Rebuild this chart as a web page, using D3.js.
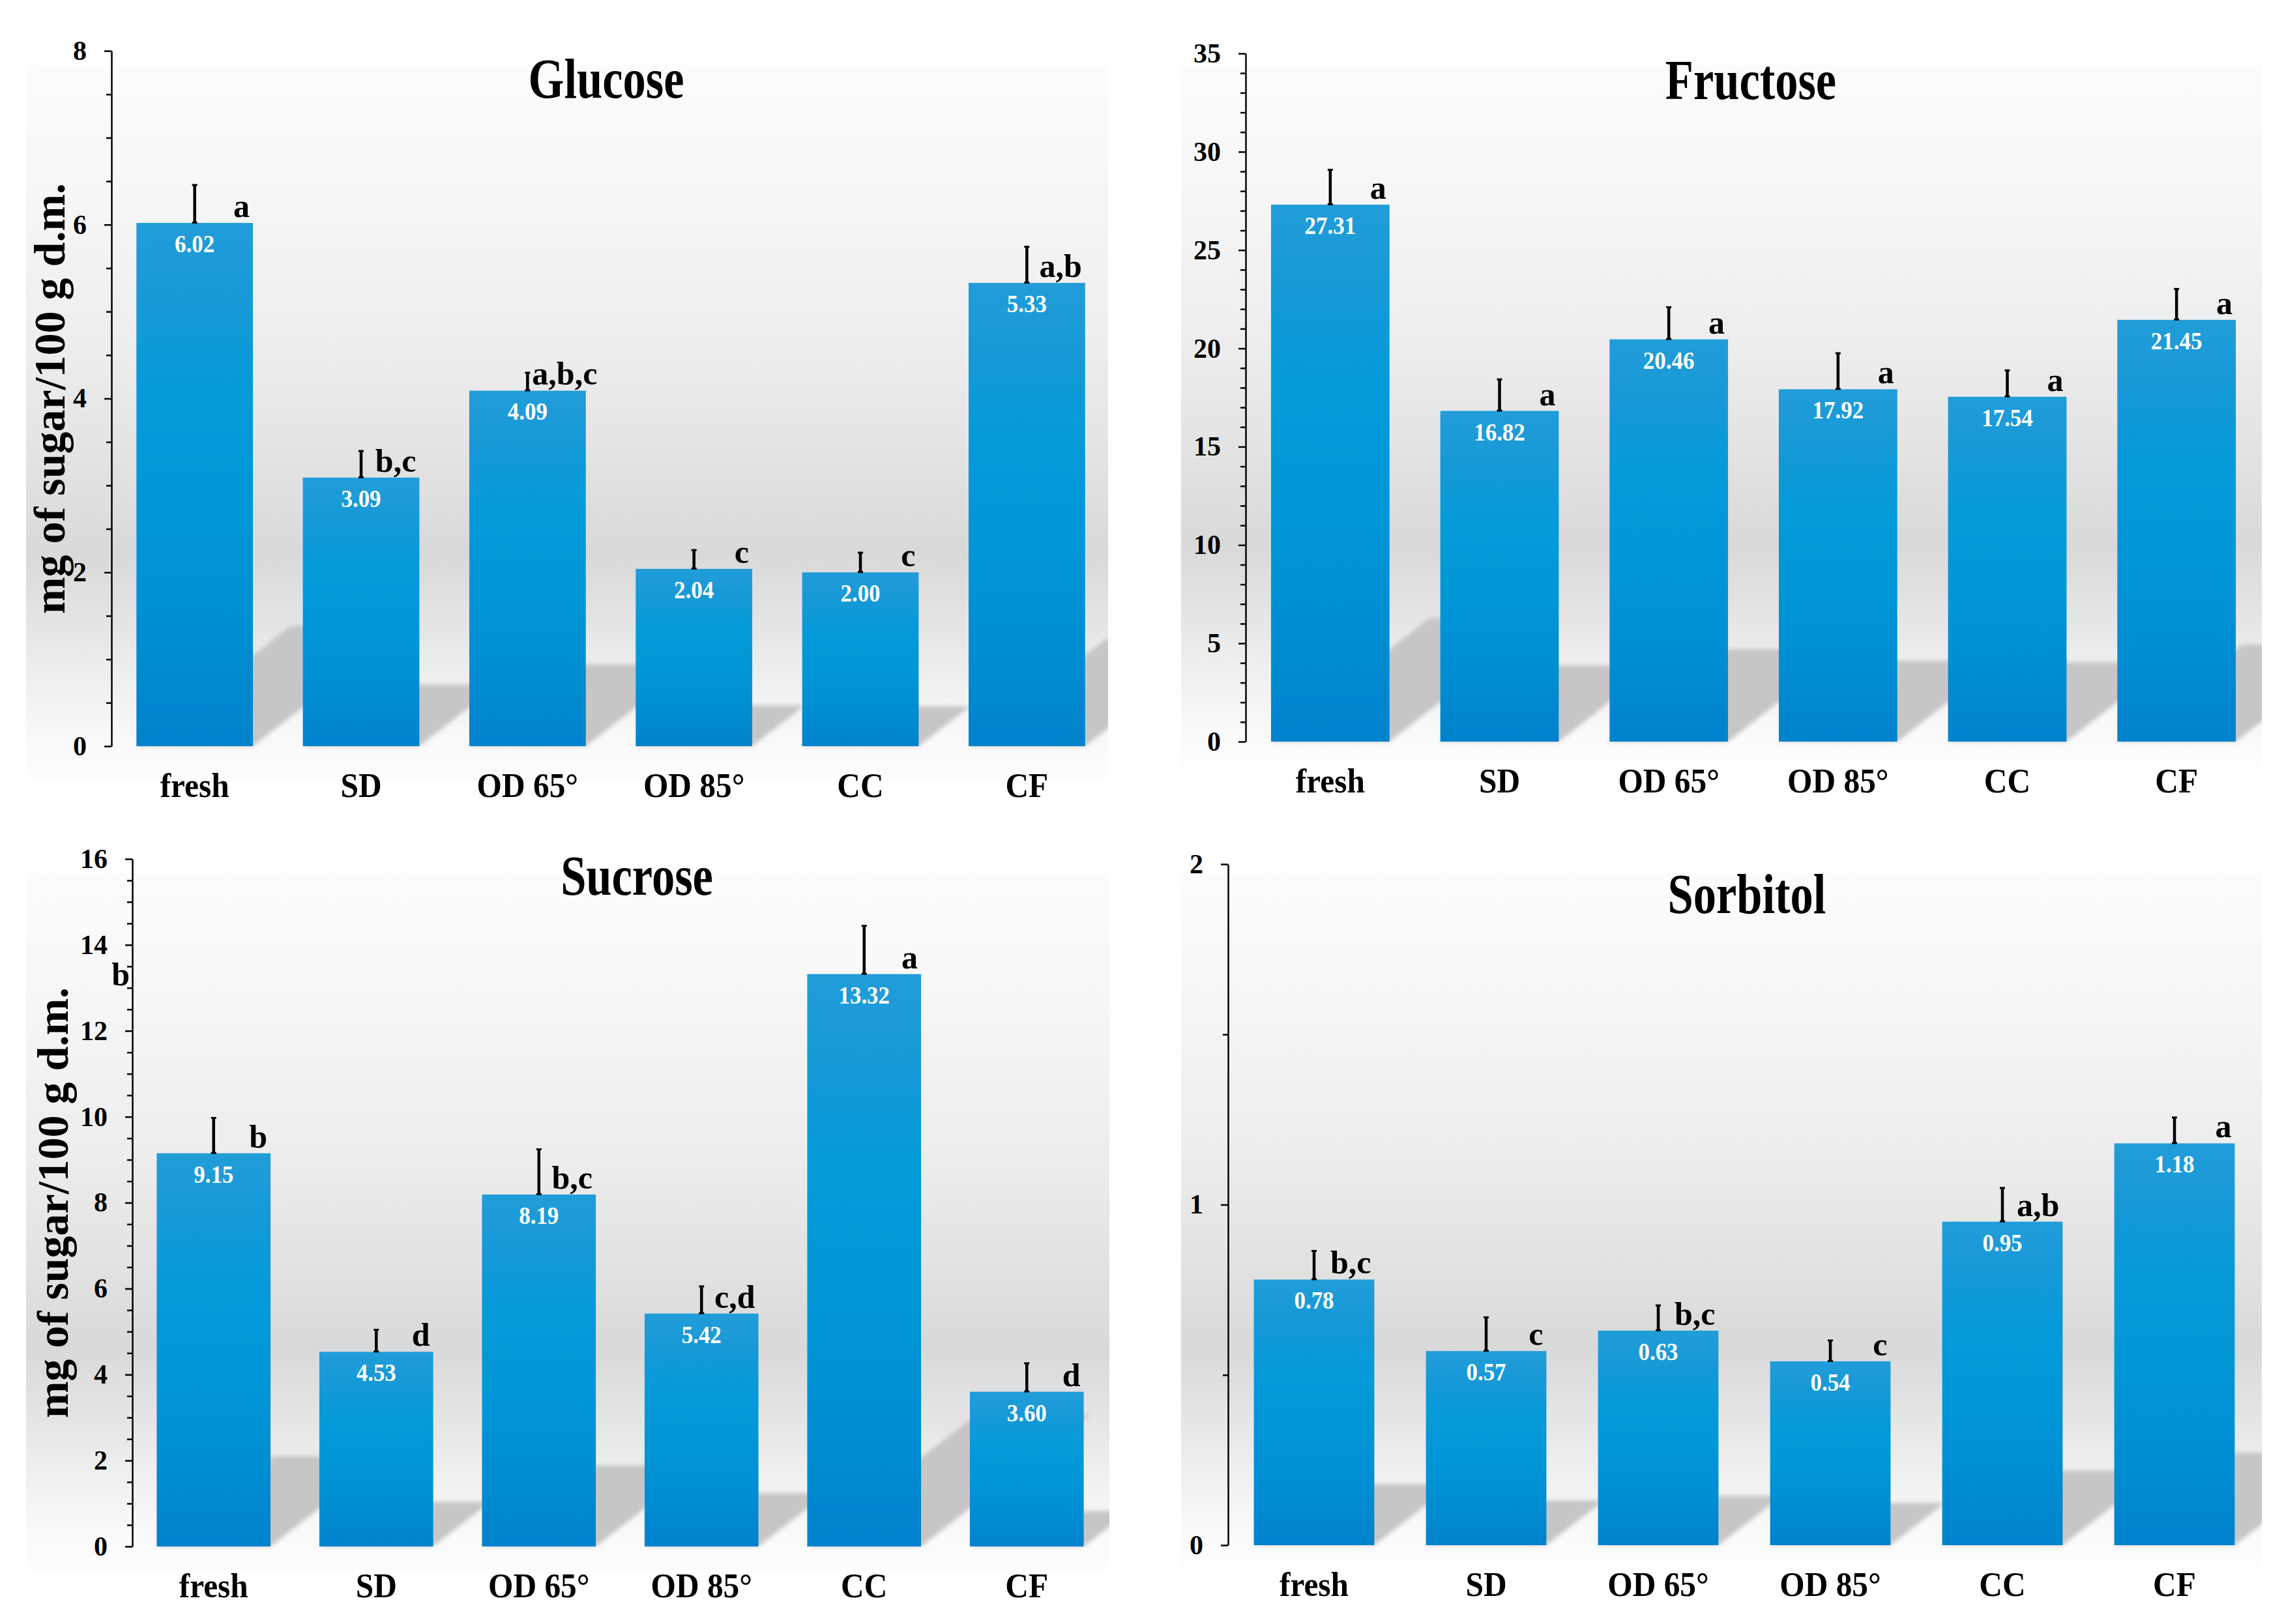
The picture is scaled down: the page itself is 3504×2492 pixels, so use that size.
<!DOCTYPE html>
<html>
<head>
<meta charset="utf-8">
<script src="https://cdn.jsdelivr.net/npm/d3@7"></script>
<style>
html,body{margin:0;padding:0;background:#fff;}
svg{display:block;}
</style>
</head>
<body>
<script>
// ---------- DATA ----------
const categories = ["fresh", "SD", "OD 65°", "OD 85°", "CC", "CF"];

const glucose        = [6.02, 3.09, 4.09, 2.04, 2.00, 5.33];
const glucoseErr     = [0.44, 0.31, 0.21, 0.22, 0.23, 0.42];
const glucoseLetters = ["a", "b,c", "a,b,c", "c", "c", "a,b"];
const glucoseTicks   = [0, 2, 4, 6, 8];

const fructose        = [27.31, 16.82, 20.46, 17.92, 17.54, 21.45];
const fructoseErr     = [1.79, 1.62, 1.65, 1.85, 1.36, 1.59];
const fructoseLetters = ["a", "a", "a", "a", "a", "a"];
const fructoseTicks   = [0, 5, 10, 15, 20, 25, 30, 35];

const sucrose        = [9.15, 4.53, 8.19, 5.42, 13.32, 3.60];
const sucroseErr     = [0.83, 0.52, 1.06, 0.64, 1.13, 0.67];
const sucroseLetters = ["b", "d", "b,c", "c,d", "a", "d"];
const sucroseTicks   = [0, 2, 4, 6, 8, 10, 12, 14, 16];

const sorbitol        = [0.78, 0.57, 0.63, 0.54, 0.95, 1.18];
const sorbitolErr     = [0.085, 0.10, 0.075, 0.062, 0.10, 0.077];
const sorbitolLetters = ["b,c", "c", "b,c", "c", "a,b", "a"];
const sorbitolTicks   = [0, 1, 2];

const yTitle = "mg of sugar/100 g d.m.";

// ---------- LAYOUT ----------
const W = 3504, H = 2492;
const FONT = "'Liberation Serif','Times New Roman',serif";

const panels = [
  {title:"Glucose",  vals:glucose,  errs:glucoseErr,  letters:glucoseLetters,  ticks:glucoseTicks,  minor:0.5,
   xr:[171,1703], yr:[1145,78],  bg:[40,100,1700,1198],  tpos:[930,150],  ytx:99,  extra:null},
  {title:"Fructose", vals:fructose, errs:fructoseErr, letters:fructoseLetters, ticks:fructoseTicks, minor:1,
   xr:[1911,3469], yr:[1138,82], bg:[1812,100,3470,1178], tpos:[2686,152], ytx:null, extra:null},
  {title:"Sucrose",  vals:sucrose,  errs:sucroseErr,  letters:sucroseLetters,  ticks:sucroseTicks,  minor:0.5,
   xr:[203,1700], yr:[2373,1318], bg:[40,1340,1702,2410], tpos:[977,1373], ytx:104, extra:{t:"b", x:199, y:1512}},
  {title:"Sorbitol", vals:sorbitol, errs:sorbitolErr, letters:sorbitolLetters, ticks:sorbitolTicks, minor:0.5,
   xr:[1884,3468], yr:[2371,1326], bg:[1812,1340,3470,2405], tpos:[2680,1401], ytx:null, extra:null}
];

const svg = d3.select("body").append("svg")
  .attr("width", W).attr("height", H)
  .attr("viewBox", `0 0 ${W} ${H}`);

svg.append("rect").attr("width", W).attr("height", H).attr("fill", "#fff");

const defs = svg.append("defs");

// background gradient
const bgGrad = defs.append("linearGradient").attr("id","bgGrad")
  .attr("x1",0).attr("y1",0).attr("x2",0).attr("y2",1);
[[0,"#fcfcfc"],[0.2,"#f6f6f6"],[0.4,"#ededed"],[0.55,"#e3e3e3"],[0.68,"#d9d9d9"],
 [0.76,"#e2e2e2"],[0.85,"#eeeeee"],[0.94,"#f9f9f9"],[1,"#fdfdfd"]]
  .forEach(([o,c]) => bgGrad.append("stop").attr("offset",o).attr("stop-color",c));

// bar gradient
const barGrad = defs.append("linearGradient").attr("id","barGrad")
  .attr("x1",0).attr("y1",0).attr("x2",0).attr("y2",1);
[[0,"#219dd9"],[0.15,"#1799d7"],[0.32,"#069ad9"],[0.55,"#0097d7"],[0.8,"#008dd2"],[1,"#0082cc"]]
  .forEach(([o,c]) => barGrad.append("stop").attr("offset",o).attr("stop-color",c));

// blur for shadows
defs.append("filter").attr("id","shBlur").attr("x","-10%").attr("y","-10%").attr("width","120%").attr("height","120%")
  .append("feGaussianBlur").attr("stdDeviation", 3);

panels.forEach((p, i) => {
  const g = svg.append("g");

  const x = d3.scaleBand().domain(categories).range(p.xr).paddingInner(0.3).paddingOuter(0.15);
  const y = d3.scaleLinear().domain([0, d3.max(p.ticks)]).range(p.yr);

  // background
  const [bx0, by0, bx1, by1] = p.bg;
  g.append("rect").attr("x",bx0).attr("y",by0).attr("width",bx1-bx0).attr("height",by1-by0)
    .attr("fill","url(#bgGrad)");

  // clip for shadows
  defs.append("clipPath").attr("id","clip"+i)
    .append("rect").attr("x",bx0).attr("y",by0).attr("width",bx1-bx0).attr("height",by1-by0);

  // shadows
  const data = categories.map((c, k) => ({c, v:p.vals[k], e:p.errs[k], l:p.letters[k]}));
  const y0 = y(0);
  g.append("g").attr("clip-path", `url(#clip${i})`)
    .selectAll("polygon").data(data).join("polygon")
    .attr("points", d => {
      const xa = x(d.c), xb = x(d.c) + x.bandwidth();
      const hs = 0.23 * (y0 - y(d.v));
      const dx = hs / 0.78;
      return [[xa,y0],[xb,y0],[xb+dx,y0-hs],[xa+dx,y0-hs]].map(q => q.join(",")).join(" ");
    })
    .attr("fill","#c6c6c6")
    .attr("filter","url(#shBlur)");

  // bars
  g.append("g").selectAll("rect").data(data).join("rect")
    .attr("x", d => x(d.c))
    .attr("y", d => y(d.v))
    .attr("width", x.bandwidth())
    .attr("height", d => y0 - y(d.v))
    .attr("fill", "url(#barGrad)");

  // error bars (upper only)
  const eb = g.append("g").selectAll("g").data(data).join("g");
  eb.append("line")
    .attr("x1", d => x(d.c) + x.bandwidth()/2).attr("x2", d => x(d.c) + x.bandwidth()/2)
    .attr("y1", d => y(d.v)).attr("y2", d => y(d.v + d.e))
    .attr("stroke","#000").attr("stroke-width",4.5);
  eb.append("rect")
    .attr("x", d => x(d.c) + x.bandwidth()/2 - 4).attr("y", d => y(d.v + d.e) - 1)
    .attr("width", 8).attr("height", 3).attr("fill","#000");
  eb.append("rect")
    .attr("x", d => x(d.c) + x.bandwidth()/2 - 4).attr("y", d => y(d.v) - 2)
    .attr("width", 8).attr("height", 3).attr("fill","#000");

  // value labels
  g.append("g").selectAll("g").data(data).join("g")
    .attr("transform", d => `translate(${x(d.c) + x.bandwidth()/2},${y(d.v) + 45})`)
    .append("text")
    .attr("transform","scale(0.92,1)")
    .attr("text-anchor","middle")
    .attr("font-family", FONT).attr("font-weight","bold").attr("font-size",38)
    .attr("fill","#fff")
    .text(d => d.v.toFixed(2));

  // significance letters (right-aligned near bar edge, but kept clear of the error bar)
  g.append("g").selectAll("text").data(data).join("text")
    .attr("y", d => y(d.v) - 9)
    .attr("text-anchor","start")
    .attr("font-family", FONT).attr("font-weight","bold").attr("font-size",50)
    .attr("fill","#000")
    .text(d => d.l)
    .attr("x", function(d) {
      const w = this.getComputedTextLength();
      const cx = x(d.c) + x.bandwidth()/2;
      const endX = x(d.c) + x.bandwidth() - 5;
      return Math.max(endX - w, cx + 7);
    });

  // y axis: minor ticks
  const maxV = d3.max(p.ticks);
  const minorVals = d3.range(0, maxV + 1e-9, p.minor).filter(v => !p.ticks.includes(v));
  const axMinor = g.append("g").attr("transform", `translate(${p.xr[0]},0)`)
    .call(d3.axisLeft(y).tickValues(minorVals).tickSize(8).tickSizeOuter(0).tickFormat(""));
  axMinor.select(".domain").remove();
  axMinor.selectAll(".tick line").attr("stroke","#000").attr("stroke-width",2.5);

  const ax = g.append("g").attr("transform", `translate(${p.xr[0]},0)`)
    .call(d3.axisLeft(y).tickValues(p.ticks).tickSize(11).tickSizeOuter(0).tickPadding(27)
      .tickFormat(d3.format("d")));
  ax.select(".domain").attr("stroke","#000").attr("stroke-width",2.5);
  ax.selectAll(".tick line").attr("stroke","#000").attr("stroke-width",2.5);
  ax.selectAll(".tick text")
    .attr("font-family", FONT).attr("font-weight","bold").attr("font-size",42).attr("fill","#000");

  // x category labels
  g.append("g").selectAll("g").data(categories).join("g")
    .attr("transform", d => `translate(${x(d) + x.bandwidth()/2},${y0 + 78})`)
    .append("text")
    .attr("transform","scale(0.95,1)")
    .attr("text-anchor","middle")
    .attr("font-family", FONT).attr("font-weight","bold").attr("font-size",52)
    .attr("fill","#000")
    .text(d => d);

  // title
  g.append("g").attr("transform", `translate(${p.tpos[0]},${p.tpos[1]})`)
    .append("text")
    .attr("transform","scale(0.82,1)")
    .attr("text-anchor","middle")
    .attr("font-family", FONT).attr("font-weight","bold").attr("font-size",86)
    .attr("fill","#000")
    .text(p.title);

  // y axis title
  if (p.ytx !== null) {
    const cy = (p.yr[0] + p.yr[1]) / 2;
    g.append("text")
      .attr("transform", `translate(${p.ytx},${cy}) rotate(-90)`)
      .attr("text-anchor","middle")
      .attr("font-family", FONT).attr("font-weight","bold").attr("font-size",68)
      .attr("fill","#000")
      .text(yTitle);
  }

  // stray annotation
  if (p.extra) {
    g.append("text")
      .attr("x", p.extra.x).attr("y", p.extra.y)
      .attr("text-anchor","end")
      .attr("font-family", FONT).attr("font-weight","bold").attr("font-size",50)
      .attr("fill","#000")
      .text(p.extra.t);
  }
});
</script>
</body>
</html>
